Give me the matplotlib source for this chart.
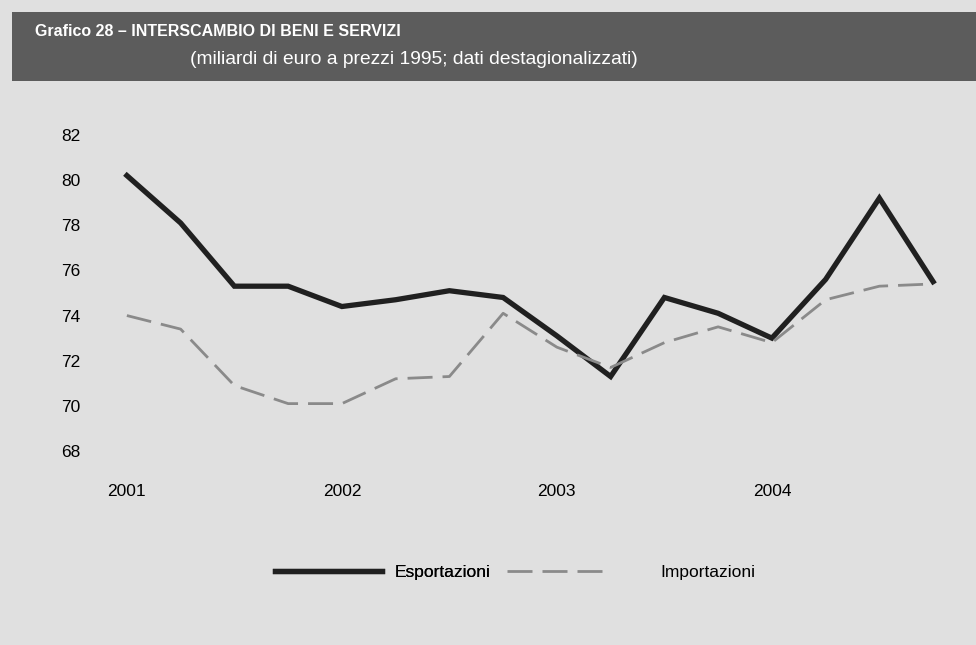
import matplotlib.pyplot as plt
import numpy as np

plt.rcParams['font.family'] = ['Liberation Sans', 'DejaVu Sans']

# dati trimestrali 2001-2004
anni = ['2001', '2002', '2003', '2004']
esportazioni = [80.2, 78.1, 75.3, 75.3, 74.4, 74.7, 75.1, 74.8,
                73.1, 71.3, 74.8, 74.1, 73.0, 75.6, 79.2, 75.5]
importazioni = [74.0, 73.4, 70.9, 70.1, 70.1, 71.2, 71.3, 74.1,
                72.6, 71.7, 72.8, 73.5, 72.8, 74.7, 75.3, 75.4]
y_ticks = [68, 70, 72, 74, 76, 78, 80, 82]

W, H = 976, 645
fig = plt.figure(figsize=(W / 100, H / 100), dpi=100)
fig.patch.set_facecolor('#e0e0e0')

# barra del titolo
bar = fig.add_axes([0.012, 1 - 81 / H, 0.988, 69 / H])
bar.set_facecolor('#5c5c5c')
bar.set_xticks([])
bar.set_yticks([])
for s in bar.spines.values():
    s.set_visible(False)
fig.text(35 / W, 1 - 32 / H, 'Grafico 28 \u2013 INTERSCAMBIO DI BENI E SERVIZI',
         color='white', fontsize=11.5, fontweight='bold', va='center', ha='left')
fig.text(190 / W, 1 - 59 / H, '(miliardi di euro a prezzi 1995; dati destagionalizzati)',
         color='white', fontsize=13.9, va='center', ha='left')

ax = fig.add_axes([100 / W, 1 - 470 / H, 860 / W, 350 / H])
ax.set_facecolor('none')
x = np.arange(len(esportazioni))
l1, = ax.plot(x, esportazioni, color='#202020', lw=3.8, solid_joinstyle='miter',
              label='Esportazioni')
l2, = ax.plot(x, importazioni, color='#8a8a8a', lw=2.0, dashes=(9, 3.6),
              label='Importazioni')

ax.set_xlim(-0.5, 15.5)
ax.set_ylim(67.16, 82.66)
ax.set_yticks(y_ticks)
ax.set_yticklabels([str(v) for v in y_ticks])
ax.set_xticks(np.arange(0, 16, 4))
ax.set_xticklabels(anni)
ax.tick_params(length=0, labelsize=12.5)
ax.tick_params(axis='y', pad=14)
ax.tick_params(axis='x', pad=10)
for s in ax.spines.values():
    s.set_visible(False)

leg1 = fig.legend(handles=[l1], loc='center', bbox_to_anchor=(383 / W, 1 - 572 / H),
                  frameon=False, fontsize=12.5, handlelength=6.15, handletextpad=0.75)
leg2 = fig.legend(handles=[l2], loc='center', bbox_to_anchor=(631 / W, 1 - 572 / H),
                  frameon=False, fontsize=12.5, handlelength=6.0, handletextpad=2.8)
fig.add_artist(leg1)

fig.savefig('out.png', dpi=100, facecolor=fig.get_facecolor())
